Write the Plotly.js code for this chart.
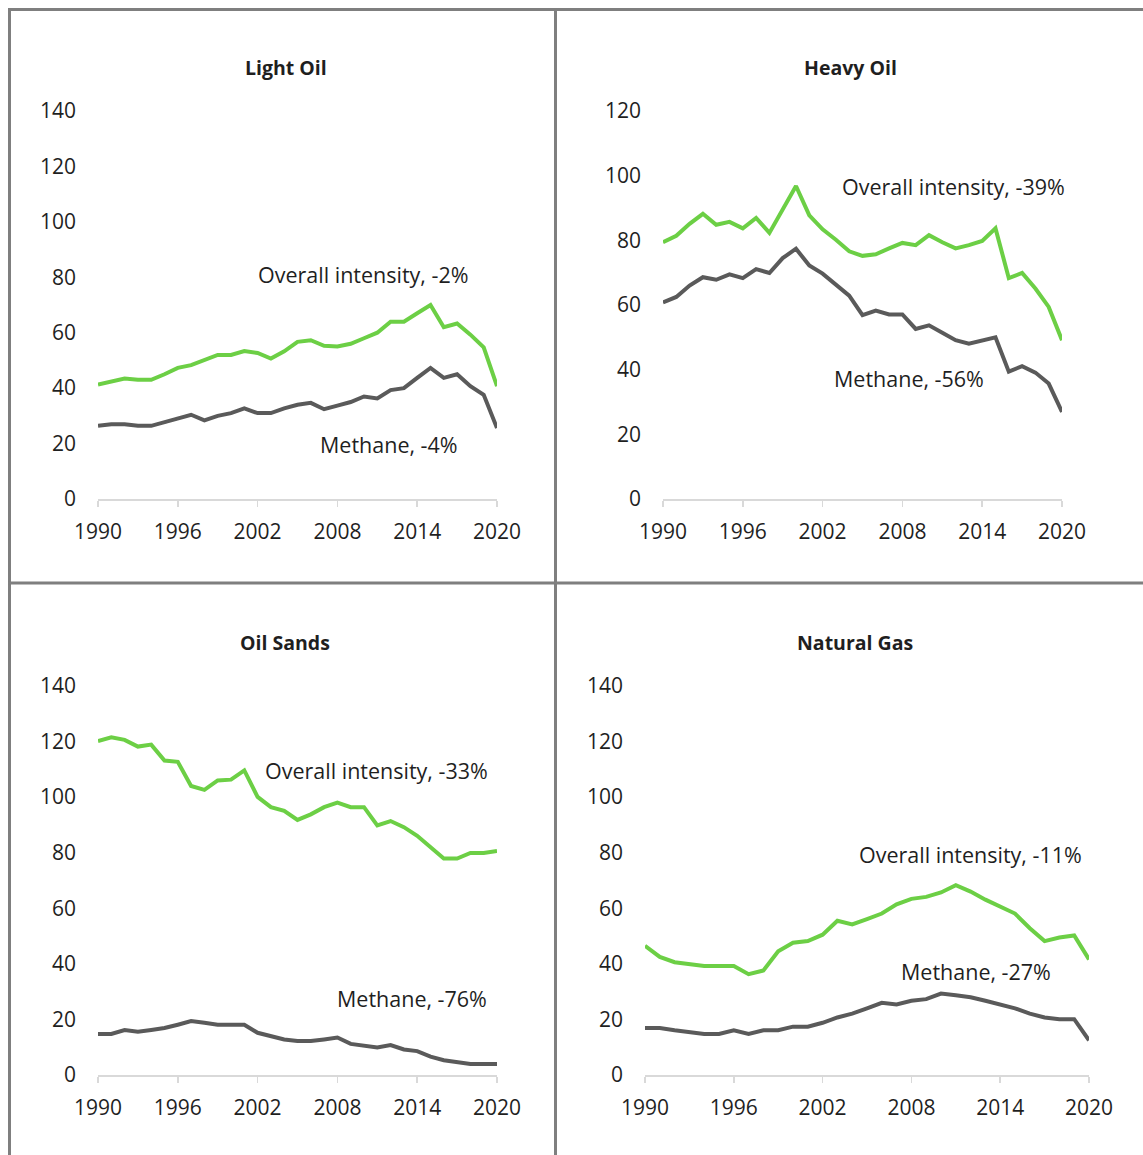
<!DOCTYPE html>
<html>
<head>
<meta charset="utf-8">
<script src="https://cdn.plot.ly/plotly-3.0.1.min.js"></script>
<style>html,body{margin:0;padding:0;background:#fff;}#chart{width:1143px;height:1155px;}</style>
</head>
<body>
<div id="chart"></div>
<script>
const years = [1990,1991,1992,1993,1994,1995,1996,1997,1998,1999,2000,2001,2002,2003,2004,2005,2006,2007,2008,2009,2010,2011,2012,2013,2014,2015,2016,2017,2018,2019,2020];
const tickYears = [1990,1996,2002,2008,2014,2020];
const panelTitles = ["Light Oil","Heavy Oil","Oil Sands","Natural Gas"];

const lightOverall = [41.3,42.5,43.5,43,43,45,47.3,48.3,50.2,52,52,53.4,52.7,50.7,53.3,56.7,57.3,55.3,55,56,58,60,64,64,67,70,62,63.3,59.3,54.7,40.7];
const lightMethane = [26.4,27,27,26.4,26.4,27.7,29,30.4,28.4,30,31,32.7,31,31,32.7,34,34.7,32.4,33.7,35,37,36.3,39.3,40,43.7,47.3,43.7,45,40.7,37.6,25.6];

const heavyOverall = [79.4,81.4,85.1,88.2,84.8,85.7,83.7,86.9,82.3,89.7,96.8,87.7,83.4,80.2,76.6,75.2,75.7,77.5,79.2,78.5,81.6,79.4,77.5,78.5,79.8,83.7,68.3,69.9,65.1,59.4,49.1];
const heavyMethane = [60.8,62.5,66,68.6,67.8,69.5,68.3,71.1,69.9,74.5,77.4,72.2,69.7,66.3,62.9,56.9,58.3,57.1,57.1,52.6,53.7,51.4,49.1,48,49.1,50,39.4,41.1,39.1,35.7,26.9];

const sandsOverall = [120.2,121.5,120.6,118.2,118.9,113.2,112.7,104,102.6,106,106.3,109.6,100.1,96.4,95.1,91.8,93.8,96.4,98,96.4,96.4,89.8,91.4,89.2,86.1,82.2,77.9,77.9,79.9,79.9,80.6];
const sandsMethane = [14.8,14.8,16.2,15.6,16.2,16.9,18.1,19.4,18.8,18.1,18.1,18.1,15.2,13.9,12.8,12.2,12.2,12.8,13.5,11.2,10.6,9.9,10.8,9.2,8.6,6.6,5.3,4.6,4,4,4];

const gasOverall = [46.5,42.5,40.6,39.9,39.2,39.2,39.2,36.3,37.6,44.5,47.6,48.2,50.5,55.5,54.2,56.1,58.1,61.4,63.4,64.1,65.7,68.3,66,63.1,60.4,58.1,52.8,48.2,49.5,50.2,41.6];
const gasMethane = [16.9,16.9,16.1,15.5,14.8,14.8,16.1,14.8,16.1,16.1,17.4,17.4,18.8,20.7,22.1,24,26,25.4,26.7,27.3,29.3,28.7,28,26.7,25.4,24,22.1,20.7,20.1,20.1,12.5];

const overallLabels = ["Overall intensity, -2%","Overall intensity, -39%","Overall intensity, -33%","Overall intensity, -11%"];
const methaneLabels = ["Methane, -4%","Methane, -56%","Methane, -76%","Methane, -27%"];
const yMax = [140,120,140,140];

const W = 1143, H = 1155;
const px = x => x / W;
const py = y => 1 - y / H;

const GREEN = '#6ccf45';
const GRAY = '#5a5a5a';
const FONT = 'Open Sans, sans-serif';
const TXT = '#1f1f1f';

const overallSeries = [lightOverall, heavyOverall, sandsOverall, gasOverall];
const methaneSeries = [lightMethane, heavyMethane, sandsMethane, gasMethane];

// pixel geometry of each panel's plot area: [x0, x1, yTop, yBottom]
const geom = [
  [98, 497, 111, 499],
  [663, 1062, 111, 499],
  [98, 497, 686, 1075],
  [645, 1089, 686, 1075]
];
const titlePos = [[286, 67],[850, 67],[285, 642],[855, 642]];
const overallPos = [[363, 274],[953, 186],[376, 770],[970, 854]];
const methanePos = [[389, 444],[909, 378],[412, 998],[976, 972]];

const data = [];
const layout = {
  width: W, height: H,
  margin: {l:0, r:0, t:0, b:0},
  paper_bgcolor: '#fff', plot_bgcolor: 'rgba(0,0,0,0)',
  showlegend: false,
  font: {family: FONT, color: TXT},
  annotations: [],
  shapes: []
};

for (let i = 0; i < 4; i++) {
  const n = i === 0 ? '' : String(i + 1);
  const g = geom[i];
  data.push({x: years, y: overallSeries[i], type: 'scatter', mode: 'lines', xaxis: 'x' + n, yaxis: 'y' + n,
    line: {color: GREEN, width: 4}, hoverinfo: 'skip'});
  data.push({x: years, y: methaneSeries[i], type: 'scatter', mode: 'lines', xaxis: 'x' + n, yaxis: 'y' + n,
    line: {color: GRAY, width: 4}, hoverinfo: 'skip'});
  layout['xaxis' + n] = {
    domain: [px(g[0]), px(g[1])], anchor: 'y' + n, range: [1990, 2020],
    tickvals: tickYears, ticktext: tickYears.map(String),
    ticks: 'outside', ticklen: 6, tickcolor: '#d9d9d9', tickwidth: 1.5,
    showline: true, linecolor: '#d9d9d9', linewidth: 1.5,
    showgrid: false, zeroline: false,
    tickfont: {family: FONT, size: 21, color: TXT}, ticklabelstandoff: 7
  };
  layout['yaxis' + n] = {
    domain: [py(g[3]), py(g[2])], anchor: 'x' + n, range: [0, yMax[i]], dtick: 20,
    showgrid: false, zeroline: false, showline: false, ticks: '',
    tickfont: {family: FONT, size: 21, color: TXT}, ticklabelstandoff: 21
  };
  layout.annotations.push({xref: 'paper', yref: 'paper', x: px(titlePos[i][0]), y: py(titlePos[i][1]),
    text: '<b>' + panelTitles[i] + '</b>', showarrow: false, xanchor: 'center', yanchor: 'middle',
    font: {family: FONT, size: 19.5, color: TXT}});
  layout.annotations.push({xref: 'paper', yref: 'paper', x: px(overallPos[i][0]), y: py(overallPos[i][1]),
    text: overallLabels[i], showarrow: false, xanchor: 'center', yanchor: 'middle',
    font: {family: FONT, size: 21.5, color: TXT}});
  layout.annotations.push({xref: 'paper', yref: 'paper', x: px(methanePos[i][0]), y: py(methanePos[i][1]),
    text: methaneLabels[i], showarrow: false, xanchor: 'center', yanchor: 'middle',
    font: {family: FONT, size: 21.5, color: TXT}});
}

const border = {color: '#7f7f7f', width: 3};
layout.shapes = [
  {type: 'line', xref: 'paper', yref: 'paper', x0: px(8), x1: 1, y0: py(9.5), y1: py(9.5), line: border},
  {type: 'line', xref: 'paper', yref: 'paper', x0: px(9.5), x1: px(9.5), y0: py(8), y1: 0, line: border},
  {type: 'line', xref: 'paper', yref: 'paper', x0: px(555.5), x1: px(555.5), y0: py(8), y1: 0, line: border},
  {type: 'line', xref: 'paper', yref: 'paper', x0: px(8), x1: 1, y0: py(583), y1: py(583), line: border}
];

Plotly.newPlot('chart', data, layout, {displayModeBar: false, staticPlot: true});
</script>
</body>
</html>
